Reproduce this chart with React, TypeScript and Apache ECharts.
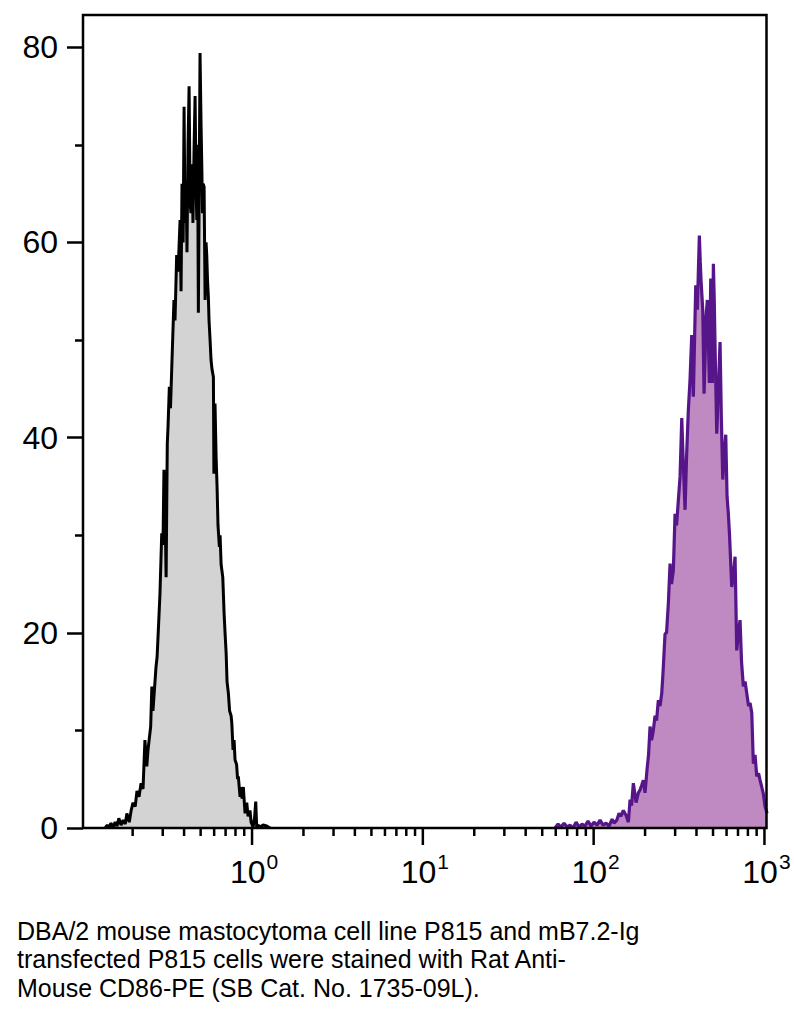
import React, { useEffect, useRef } from "react";
import * as echarts from "echarts";

// Unstained / control P815 histogram (fluorescence intensity, % of max count)
const controlX = [
  0.138, 0.142, 0.146, 0.149, 0.154, 0.158, 0.162, 0.166, 0.171, 0.176, 0.181, 0.185, 0.191, 0.196,
  0.201, 0.207, 0.212, 0.218, 0.224, 0.23, 0.236, 0.242, 0.246, 0.255, 0.259, 0.263, 0.274, 0.278,
  0.285, 0.289, 0.296, 0.301, 0.305, 0.31, 0.314, 0.319, 0.322, 0.328, 0.333, 0.34, 0.349, 0.354,
  0.362, 0.369, 0.379, 0.384, 0.389, 0.395, 0.4, 0.405, 0.411, 0.416, 0.422, 0.428, 0.434, 0.439,
  0.445, 0.451, 0.458, 0.464, 0.47, 0.475, 0.48, 0.485, 0.489, 0.496, 0.503, 0.508, 0.513, 0.517,
  0.524, 0.531, 0.538, 0.543, 0.549, 0.555, 0.56, 0.568, 0.575, 0.583, 0.594, 0.598, 0.607, 0.616,
  0.624, 0.632, 0.644, 0.65, 0.659, 0.674, 0.686, 0.695, 0.705, 0.714, 0.727, 0.739, 0.754, 0.761,
  0.774, 0.785, 0.795, 0.812, 0.823, 0.831, 0.851, 0.862, 0.874, 0.889, 0.91, 0.931, 0.948, 0.973,
  0.987, 1.014, 1.034, 1.051, 1.065, 1.084, 1.114, 1.16, 1.219, 1.275,
];
const controlY = [
  0, 0.3, 0, 0.5, 0.1, 0.6, 0.2, 1.0, 0.3, 0.8, 0.4, 1.5, 0.6, 1.8,
  2.6, 2.2, 3.8, 3.2, 4.6, 4.0, 9.0, 6.3, 8, 10.4, 14.5, 12, 16.5, 17.5,
  21.6, 24, 30.2, 29, 36.7, 32, 25.7, 39.4, 41, 45.2, 43, 48, 54.1, 52,
  58.7, 57, 62.3, 55, 66, 60, 73.9, 62, 66, 59, 70, 76, 64, 63,
  68, 62, 70, 75, 66, 62.3, 70, 52.8, 62, 79.4, 72, 67.8, 63, 66,
  65.7, 54.1, 60, 58.7, 56, 54.4, 52, 50, 48, 47, 46.2, 36.3, 43.5, 38,
  35, 31, 28.8, 30, 27, 25.7, 22, 20, 18, 15, 13.8, 12, 11.5, 10.8,
  8, 9, 7, 6.5, 5.0, 5.3, 3.2, 4.2, 3, 4.2, 1.5, 2.6, 1.2, 1.8,
  0.6, 0.1, 1.0, 2.7, 0.1, 0.3, 0.1, 0.3, 0.2, 0,
];

// mB7.2-Ig transfected P815 stained with CD86-PE
const stainedX = [
  59.4, 61.9, 64.4, 67.1, 69.9, 72.7, 75.7, 78.9, 82.1, 85.5, 89.0, 92.7, 96.6, 100.5,
  104.7, 109, 113.5, 118.2, 123.1, 128.2, 131.7, 136.6, 140.8, 144.7, 149.2, 154.7, 159.7, 163.4,
  166.7, 170.8, 177.1, 182.7, 186.9, 191.2, 195.4, 199.9, 205.4, 209.6, 213.9, 218.3, 223.6, 228.8,
  233.5, 239.2, 244.8, 250.4, 254.9, 261.8, 267.2, 273.7, 280.1, 285.8, 292.8, 299.6, 305.8, 313.3,
  320.6, 328, 333.8, 342.9, 349.9, 358.4, 366.8, 375.2, 383.4, 389.7, 396, 404.7, 410.2, 415.8,
  420.9, 425.4, 435.3, 443, 449, 455.1, 463.1, 469.5, 475.8, 484.9, 490.2, 495.5, 502.3, 508.4,
  513.9, 525.7, 535, 549.5, 559.4, 570, 580.1, 593.5, 603.9, 614.6, 624.6, 643.4, 659.3, 672.8,
  688.3, 703.4, 719.6, 734.4, 752.5, 769.9, 787.7, 807.2, 823.7, 842.7, 861, 881, 901.5, 923.6,
  942.5, 964.3, 985.4, 1008, 1036,
];
const stainedY = [
  0, 0.4, 0.1, 0.5, 0.1, 0.3, 0, 0.6, 0.1, 0.4, 0.2, 0.7, 0.2, 0.6,
  0.3, 0.8, 0.3, 0.5, 0.2, 0.9, 0.5, 0.8, 1.5, 1.2, 1.8, 1.3, 0.6, 2.9,
  2.3, 4.6, 2.6, 3.6, 3.9, 4.4, 4.9, 3.6, 6, 7.5, 10.4, 9, 10, 11.5,
  11, 13.1, 12.5, 13.8, 16, 19.9, 20, 23, 27.1, 25, 26.4, 32.2, 31, 33.6,
  36, 42, 38, 32.6, 38, 42.8, 46, 50.5, 44.2, 50, 55.6, 53.1, 57, 60.7,
  58, 56.1, 53.1, 44.5, 48, 52.4, 54.1, 50, 45.6, 56.3, 50, 45.6, 57.8, 54,
  49.3, 40.4, 44, 49.8, 42, 35.7, 38, 40.3, 34, 32.2, 30, 24.7, 26, 27.8,
  18.2, 20, 21.3, 17, 14.5, 15, 13.8, 12.5, 12.8, 11.8, 6.6, 7.5, 5.3, 5.6,
  4.9, 4.2, 3.5, 2.2, 1.5,
];

const yMajorTicks = [0, 20, 40, 60, 80];
const yMinorTicks = [10, 30, 50, 70];
const xMajorTicks = [1, 10, 100, 1000];
const xTickExponents = ["0", "1", "2", "3"];
const xMinorTicks = [
  0.2, 0.3, 0.4, 0.5, 0.6, 0.7, 0.8, 0.9,
  2, 3, 4, 5, 6, 7, 8, 9,
  20, 30, 40, 50, 60, 70, 80, 90,
  200, 300, 400, 500, 600, 700, 800, 900,
];
const captionLines = [
  "DBA/2 mouse mastocytoma cell line P815 and mB7.2-Ig",
  "transfected P815 cells were stained with Rat Anti-",
  "Mouse CD86-PE (SB Cat. No. 1735-09L).",
];

const X_MIN = 0.1024;
const X_MAX = 1028;
const Y_MAX = 83.3;
const AXIS_FONT = "Liberation Sans";

export default function App() {
  const ref = useRef<HTMLDivElement>(null);

  useEffect(() => {
    if (!ref.current) return;
    const chart = echarts.init(ref.current, null, { renderer: "svg" });
    const pairs = (xs: number[], ys: number[]) => xs.map((x, i) => [x, ys[i]]);

    const tickSeries = (values: number[], len: number) => ({
      type: "custom",
      silent: true,
      clip: false,
      z: 6,
      data: values.map((v) => [v, 0]),
      renderItem: (_params: any, api: any) => {
        const p = api.coord([api.value(0), 0]);
        return {
          type: "line",
          shape: { x1: p[0], y1: p[1], x2: p[0], y2: p[1] + len },
          style: { stroke: "#000", lineWidth: 2.5 },
        };
      },
    });

    const option: any = {
      animation: false,
      backgroundColor: "#fff",
      grid: {
        left: 83,
        right: 27.5,
        top: 15,
        bottom: 186,
        show: true,
        borderColor: "#000",
        borderWidth: 2.5,
        backgroundColor: "transparent",
        z: 10,
      },
      xAxis: {
        type: "log",
        logBase: 10,
        min: X_MIN,
        max: X_MAX,
        axisLine: { show: false },
        axisTick: { show: false },
        axisLabel: { show: false },
        splitLine: { show: false },
        minorTick: { show: false },
        minorSplitLine: { show: false },
      },
      yAxis: [
        {
          type: "value",
          min: 0,
          max: Y_MAX,
          axisLine: { show: false },
          splitLine: { show: false },
          axisTick: {
            show: true,
            customValues: yMajorTicks,
            length: 16,
            lineStyle: { color: "#000", width: 2.5 },
          },
          axisLabel: {
            customValues: yMajorTicks,
            margin: 25,
            color: "#000",
            fontSize: 32,
            fontFamily: AXIS_FONT,
          },
        },
        {
          type: "value",
          min: 0,
          max: Y_MAX,
          position: "left",
          axisLine: { show: false },
          splitLine: { show: false },
          axisTick: {
            show: true,
            customValues: yMinorTicks,
            length: 8,
            lineStyle: { color: "#000", width: 2.5 },
          },
          axisLabel: { show: false },
        },
      ],
      series: [
        {
          name: "Control",
          type: "line",
          data: pairs(controlX, controlY),
          showSymbol: false,
          symbol: "none",
          lineStyle: { color: "#000", width: 3 },
          areaStyle: { color: "#d3d3d3", opacity: 1 },
          z: 3,
        },
        {
          name: "CD86-PE",
          type: "line",
          data: pairs(stainedX, stainedY),
          showSymbol: false,
          symbol: "none",
          lineStyle: { color: "#56168a", width: 3.2 },
          areaStyle: { color: "#bf89c1", opacity: 1 },
          z: 3,
        },
        tickSeries(xMajorTicks, 17),
        tickSeries(xMinorTicks, 8),
        {
          type: "custom",
          silent: true,
          clip: false,
          z: 6,
          data: xMajorTicks.map((v) => [v, 0]),
          renderItem: (params: any, api: any) => {
            const p = api.coord([api.value(0), 0]);
            const exp = xTickExponents[params.dataIndex];
            return {
              type: "text",
              x: p[0] + 2,
              y: p[1] + 44,
              style: {
                text: `{b|10}{s|${exp}}`,
                align: "center",
                verticalAlign: "middle",
                fill: "#000",
                rich: {
                  b: { fontSize: 32, lineHeight: 42, fontFamily: AXIS_FONT, fill: "#000" },
                  s: {
                    fontSize: 21,
                    lineHeight: 21,
                    fontFamily: AXIS_FONT,
                    fill: "#000",
                    verticalAlign: "top",
                    padding: [0, 0, 0, 1],
                  },
                },
              },
            };
          },
        },
      ],
      graphic: [
        {
          type: "text",
          left: 17,
          top: 917,
          style: {
            text: captionLines.join("\n"),
            fontSize: 25,
            fontFamily: "Liberation Sans",
            lineHeight: 28.3,
            fill: "#000",
          },
        },
      ],
    };

    chart.setOption(option);
    return () => chart.dispose();
  }, []);

  return (
    <div
      ref={ref}
      style={{ position: "absolute", left: 0, top: 0, width: 794, height: 1014 }}
    />
  );
}
